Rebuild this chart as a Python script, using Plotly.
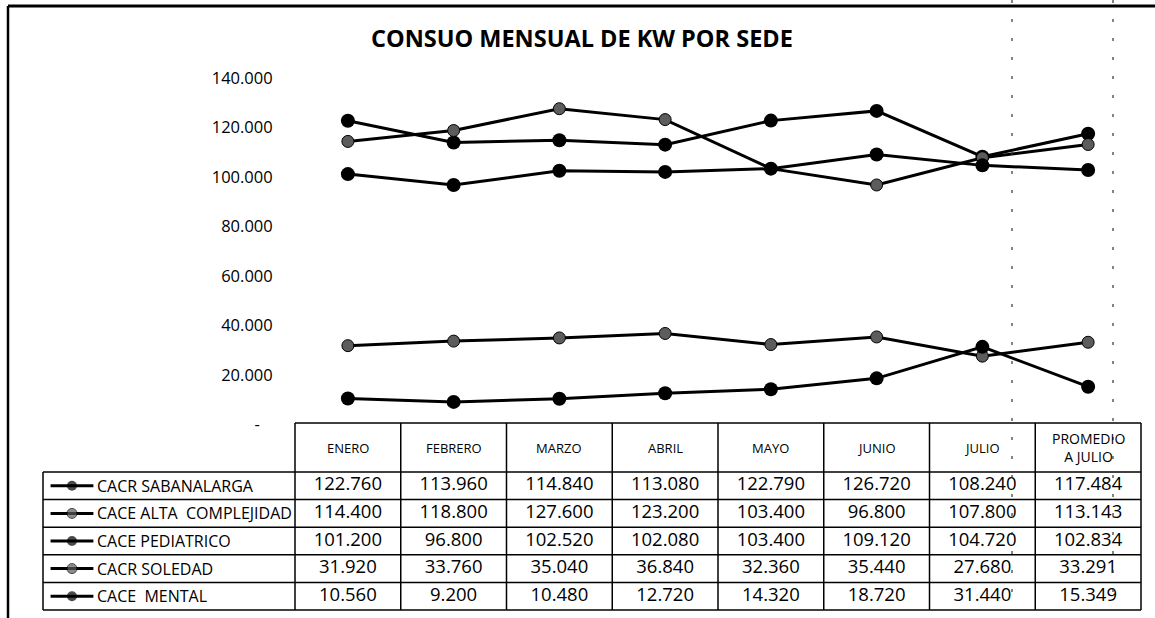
import plotly.graph_objects as go

# ---------------- data ----------------
categories = ["ENERO", "FEBRERO", "MARZO", "ABRIL", "MAYO", "JUNIO", "JULIO", "PROMEDIO A JULIO"]
header_labels = ["ENERO", "FEBRERO", "MARZO", "ABRIL", "MAYO", "JUNIO", "JULIO", "PROMEDIO<br>A JULIO"]
series_names = ["CACR SABANALARGA", "CACE ALTA\u00a0 COMPLEJIDAD", "CACE PEDIATRICO", "CACR SOLEDAD", "CACE\u00a0 MENTAL"]
sabanalarga = [122760, 113960, 114840, 113080, 122790, 126720, 108240, 117484]
alta_complejidad = [114400, 118800, 127600, 123200, 103400, 96800, 107800, 113143]
pediatrico = [101200, 96800, 102520, 102080, 103400, 109120, 104720, 102834]
soledad = [31920, 33760, 35040, 36840, 32360, 35440, 27680, 33291]
mental = [10560, 9200, 10480, 12720, 14320, 18720, 31440, 15349]
tick_values = [0, 20000, 40000, 60000, 80000, 100000, 120000, 140000]
tick_labels = ["-\u00a0\u00a0\u00a0", "20.000", "40.000", "60.000", "80.000", "100.000", "120.000", "140.000"]
title_text = "CONSUO MENSUAL DE KW POR SEDE"

all_series = [sabanalarga, alta_complejidad, pediatrico, soledad, mental]

# ---------------- geometry (pixels) ----------------
W, H = 1155, 618
def px(x):
    return x / W
def py(y):
    return 1 - y / H

col_left, col_right = 295, 1141
label_left = 43
plot_top, plot_zero = 78, 424.7
header_top, rows_top, rows_bottom = 423, 472, 610
n_cat = len(categories)
n_rows = len(all_series)
col_w = (col_right - col_left) / n_cat
row_h = (rows_bottom - rows_top) / n_rows

FONT = "Open Sans"
styles = [
    dict(color="black", size=14, line=dict(color="black", width=0)),
    dict(color="#5c5c5c", size=12, line=dict(color="black", width=1)),
    dict(color="black", size=14, line=dict(color="black", width=0)),
    dict(color="#5c5c5c", size=12, line=dict(color="black", width=1)),
    dict(color="black", size=14, line=dict(color="black", width=0)),
]

def fmt(v):
    return f"{v:,.0f}".replace(",", ".")

fig = go.Figure()

# lines of the chart
for name, vals, st in zip(series_names, all_series, styles):
    fig.add_trace(go.Scatter(
        x=categories, y=vals, mode="lines+markers", name=name,
        line=dict(color="black", width=3), marker=dict(symbol="circle", **st),
        xaxis="x", yaxis="y", showlegend=False, cliponaxis=False,
    ))

# table values as text trace on category axis x2 / row axis y2
for r, vals in enumerate(all_series):
    fig.add_trace(go.Scatter(
        x=categories, y=[r] * n_cat, mode="text", text=[fmt(v) for v in vals],
        textfont=dict(family=FONT, size=18.5, color="black"),
        xaxis="x2", yaxis="y2", showlegend=False, hoverinfo="skip",
    ))

# legend keys in label column
for r, st in enumerate(styles):
    ks = dict(st)
    ks["size"] = [0, 10, 0]
    fig.add_trace(go.Scatter(
        x=[0.03, 0.115, 0.2], y=[r, r, r], mode="lines+markers",
        line=dict(color="black", width=3), marker=ks,
        xaxis="x3", yaxis="y2", showlegend=False, hoverinfo="skip",
    ))

shapes = []
line_k = dict(color="black", width=1.5)
# outer chart frame (top & left)
shapes.append(dict(type="line", xref="paper", yref="paper", x0=px(8), x1=1, y0=py(6), y1=py(6),
                   line=dict(color="black", width=3)))
shapes.append(dict(type="line", xref="paper", yref="paper", x0=px(8), x1=px(8), y0=py(6), y1=0,
                   line=dict(color="black", width=2.5)))
# scan artefact dashed verticals
for xv in (1012, 1113):
    shapes.append(dict(type="line", xref="paper", yref="paper", x0=px(xv), x1=px(xv), y0=1, y1=py(605),
                       line=dict(color="#333", width=1.2, dash="3px,16px")))
# table horizontal lines
shapes.append(dict(type="line", xref="paper", yref="paper", x0=px(col_left), x1=px(col_right),
                   y0=py(header_top), y1=py(header_top), line=line_k))
for r in range(n_rows + 1):
    yy = rows_top + r * row_h
    shapes.append(dict(type="line", xref="paper", yref="paper", x0=px(label_left), x1=px(col_right),
                       y0=py(yy), y1=py(yy), line=line_k))
# table vertical lines
shapes.append(dict(type="line", xref="paper", yref="paper", x0=px(label_left), x1=px(label_left),
                   y0=py(rows_top), y1=py(rows_bottom), line=line_k))
for c in range(n_cat + 1):
    xx = col_left + c * col_w
    shapes.append(dict(type="line", xref="paper", yref="paper", x0=px(xx), x1=px(xx),
                       y0=py(header_top), y1=py(rows_bottom), line=line_k))

annotations = []
for cat, lab in zip(categories, header_labels):
    big = "<br>" in lab
    annotations.append(dict(x=cat, xref="x2", y=py((header_top + rows_top) / 2), yref="paper",
                            text=lab, showarrow=False, xanchor="center", yanchor="middle",
                            font=dict(family=FONT, size=14 if big else 13, color="black")))
for r, name in enumerate(series_names):
    annotations.append(dict(x=px(95), xref="paper", y=r, yref="y2", text=name, showarrow=False,
                            xanchor="left", yanchor="middle",
                            font=dict(family=FONT, size=16, color="black")))
# title as annotation
annotations.append(dict(x=px(582), xref="paper", y=py(38), yref="paper", text="<b>" + title_text + "</b>",
                        showarrow=False, xanchor="center", yanchor="middle",
                        font=dict(family=FONT, size=23.5, color="black")))

common = dict(showgrid=False, zeroline=False, showline=False, automargin=False)
fig.update_layout(
    template="none",
    width=W, height=H, margin=dict(l=0, r=0, t=0, b=0, pad=0), autosize=False,
    paper_bgcolor="white", plot_bgcolor="white",
    xaxis=dict(domain=[px(col_left), px(col_right)], type="category", categoryarray=categories,
               range=[-0.5, n_cat - 0.5], showticklabels=False, ticks="", anchor="y", **common),
    yaxis=dict(domain=[py(plot_zero), py(plot_top)], range=[0, 140000], tickvals=tick_values,
               ticktext=tick_labels, ticks="outside", ticklen=0, ticklabelstandoff=18,
               tickfont=dict(family=FONT, size=16.5, color="black"), anchor="x", **common),
    xaxis2=dict(domain=[px(col_left), px(col_right)], type="category", categoryarray=categories,
                range=[-0.5, n_cat - 0.5], showticklabels=False, ticks="", anchor="y2", **common),
    yaxis2=dict(domain=[py(rows_bottom), py(rows_top)], range=[n_rows - 0.5, -0.5],
                showticklabels=False, ticks="", anchor="x2", **common),
    xaxis3=dict(domain=[px(label_left), px(col_left)], range=[0, 1], showticklabels=False,
                ticks="", anchor="y2", **common),
    shapes=shapes, annotations=annotations, showlegend=False,
)

fig.write_html("out.html", config={"displayModeBar": False, "staticPlot": True},
               post_script="document.body.style.margin='0px';document.body.style.overflow='hidden';")
